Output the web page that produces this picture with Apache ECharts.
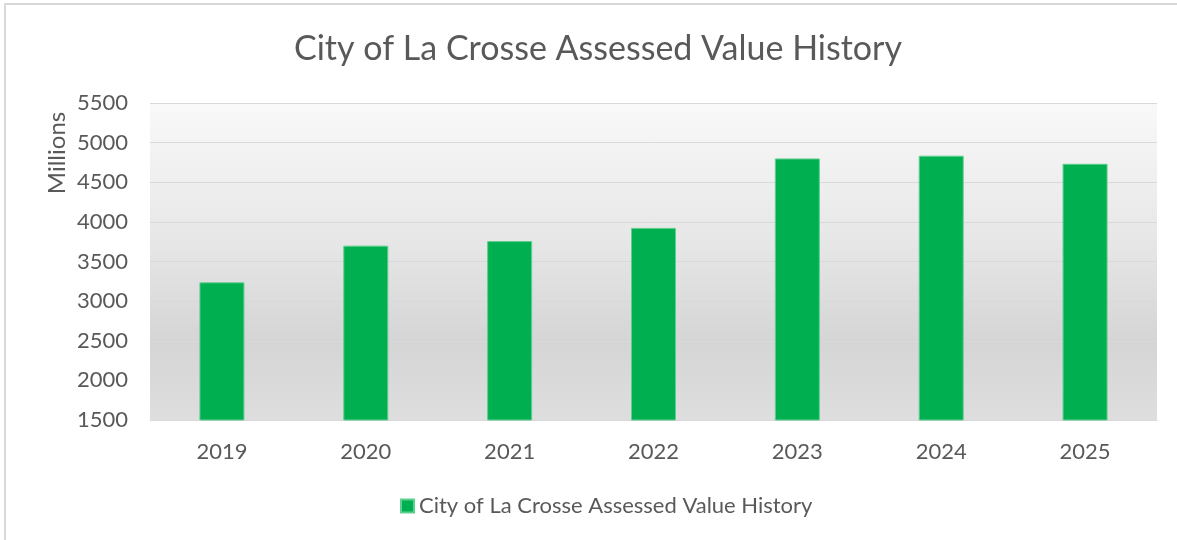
<!DOCTYPE html>
<html>
<head>
<meta charset="utf-8">
<script src="https://cdn.jsdelivr.net/npm/echarts@6/dist/echarts.min.js"></script>
<style>
html,body{margin:0;padding:0;background:#fff;}
#chart{width:1177px;height:540px;}
</style>
</head>
<body>
<div id="chart"></div>
<script>
const categories = ['2019', '2020', '2021', '2022', '2023', '2024', '2025'];
const values = [3237, 3700, 3758, 3924, 4800, 4835, 4733];
const seriesName = 'City of La Crosse Assessed Value History';
const titleText = 'City of La Crosse Assessed Value History';
const unitLabel = 'Millions';

const FONT = 'Lato, "Open Sans", sans-serif';
const TXT = '#595959';

const chart = echarts.init(document.getElementById('chart'));
chart.setOption({
  animation: false,
  backgroundColor: '#ffffff',
  title: {
    text: titleText,
    left: 289,
    top: 27,
    textStyle: { fontFamily: FONT, fontSize: 34, fontWeight: 'normal', color: TXT }
  },
  legend: {
    data: [seriesName],
    left: 395,
    top: 490,
    itemWidth: 13,
    itemHeight: 13,
    icon: 'rect',
    textStyle: { fontFamily: FONT, fontSize: 22, color: TXT }
  },
  grid: {
    left: 150, right: 20, top: 103, bottom: 120,
    show: true,
    borderWidth: 0,
    backgroundColor: new echarts.graphic.LinearGradient(0, 0, 0, 1, [
      { offset: 0, color: '#f9f9f9' },
      { offset: 0.45, color: '#e6e6e6' },
      { offset: 0.75, color: '#d5d5d5' },
      { offset: 1, color: '#dedede' }
    ])
  },
  xAxis: {
    type: 'category',
    data: categories,
    axisLine: { lineStyle: { color: '#d9d9d9', width: 1 } },
    axisTick: { show: false },
    axisLabel: { fontFamily: FONT, fontSize: 22, color: TXT, margin: 21 }
  },
  yAxis: {
    type: 'value',
    min: 1500, max: 5500, interval: 500,
    axisLine: { show: false },
    axisTick: { show: false },
    splitLine: { lineStyle: { color: '#d9d9d9', width: 1 } },
    axisLabel: { fontFamily: FONT, fontSize: 22, color: TXT, margin: 22, formatter: v => String(v) }
  },
  graphic: [
    {
      type: 'rect',
      shape: { x: 5, y: 4, width: 1200, height: 600 },
      style: { fill: 'none', stroke: '#d9d9d9', lineWidth: 2 },
      silent: true
    },
    {
      type: 'text',
      x: 57, y: 153,
      rotation: Math.PI / 2,
      style: {
        text: unitLabel,
        fontFamily: FONT, fontSize: 24, fill: TXT,
        align: 'center', verticalAlign: 'middle'
      }
    }
  ],
  series: [{
    name: seriesName,
    type: 'bar',
    data: values,
    barWidth: 45,
    itemStyle: { color: '#00b050', borderColor: '#5fcf8f', borderWidth: 1 }
  }]
});
</script>
</body>
</html>
